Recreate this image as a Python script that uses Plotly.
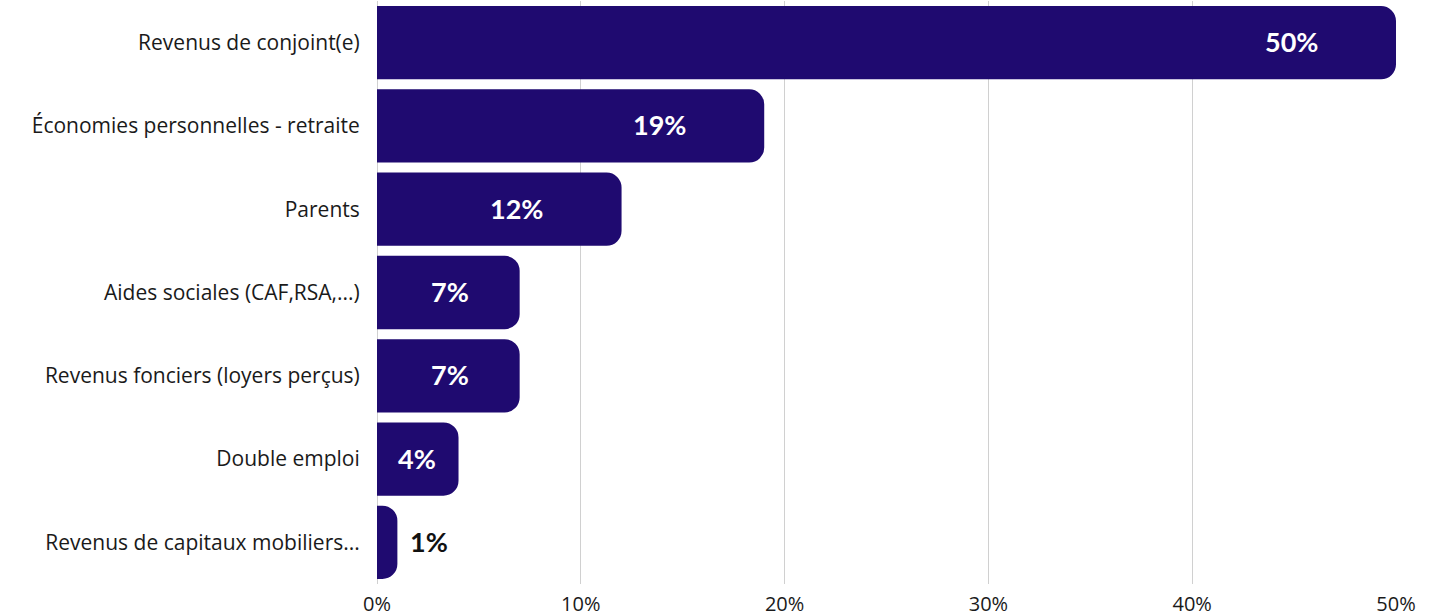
import plotly.graph_objects as go

categories = [
    "Revenus de conjoint(e)",
    "Économies personnelles - retraite",
    "Parents",
    "Aides sociales (CAF,RSA,...)",
    "Revenus fonciers (loyers perçus)",
    "Double emploi",
    "Revenus de capitaux mobiliers...",
]
values = [50, 19, 12, 7, 7, 4, 1]
tick_vals = [0, 10, 20, 30, 40, 50]
tick_text = ["0%", "10%", "20%", "30%", "40%", "50%"]

BAR = "#1f0a70"
FONT = "'Open Sans', 'Noto Sans', sans-serif"
BFONT = "Lato, 'Open Sans', sans-serif"

fig = go.Figure()
fig.add_trace(go.Bar(
    y=categories, x=values, orientation="h",
    marker=dict(color=BAR, cornerradius=15, line=dict(width=0)),
    width=0.88, hoverinfo="skip",
))

W, H = 1431, 616
ml, mr, mt, mb = 377, 35, 1, 32
pw = W - ml - mr
xmax = 50
for c, v in zip(categories, values):
    L = v / xmax * pw
    if L > 40:
        shift = -min(0.45 * L + 5, 105)
        fig.add_annotation(x=v, y=c, text=f"<b>{v}%</b>", showarrow=False,
                           xanchor="center", xshift=shift, yshift=1,
                           font=dict(color="white", size=27, family=BFONT))
    else:
        fig.add_annotation(x=v, y=c, text=f"<b>{v}%</b>", showarrow=False,
                           xanchor="left", xshift=11, yshift=1,
                           font=dict(color="#111111", size=27, family=BFONT))

fig.update_layout(
    width=W, height=H,
    margin=dict(l=ml, r=mr, t=mt, b=mb, autoexpand=False),
    plot_bgcolor="white", paper_bgcolor="white",
    showlegend=False,
    font=dict(family=FONT, color="#1a1a1a"),
)
fig.update_xaxes(range=[0, xmax], tickvals=tick_vals, ticktext=tick_text,
                 showgrid=True, gridcolor="#d0d0d0", gridwidth=1,
                 zeroline=True, zerolinecolor="#d0d0d0", zerolinewidth=1,
                 tickfont=dict(size=20, color="#1a1a1a"), ticks="outside",
                 ticklen=2, tickcolor="rgba(0,0,0,0)", automargin=False,
                 fixedrange=True)
fig.update_yaxes(categoryorder="array", categoryarray=categories[::-1],
                 tickfont=dict(size=21, color="#1a1a1a"), ticks="outside",
                 ticklen=12, tickcolor="rgba(0,0,0,0)", showgrid=False,
                 automargin=False, range=[-0.5, len(categories) - 0.5])

fig.write_html("out.html", config={"displayModeBar": False},
               post_script="document.body.style.margin='0';document.body.style.overflow='hidden';")
